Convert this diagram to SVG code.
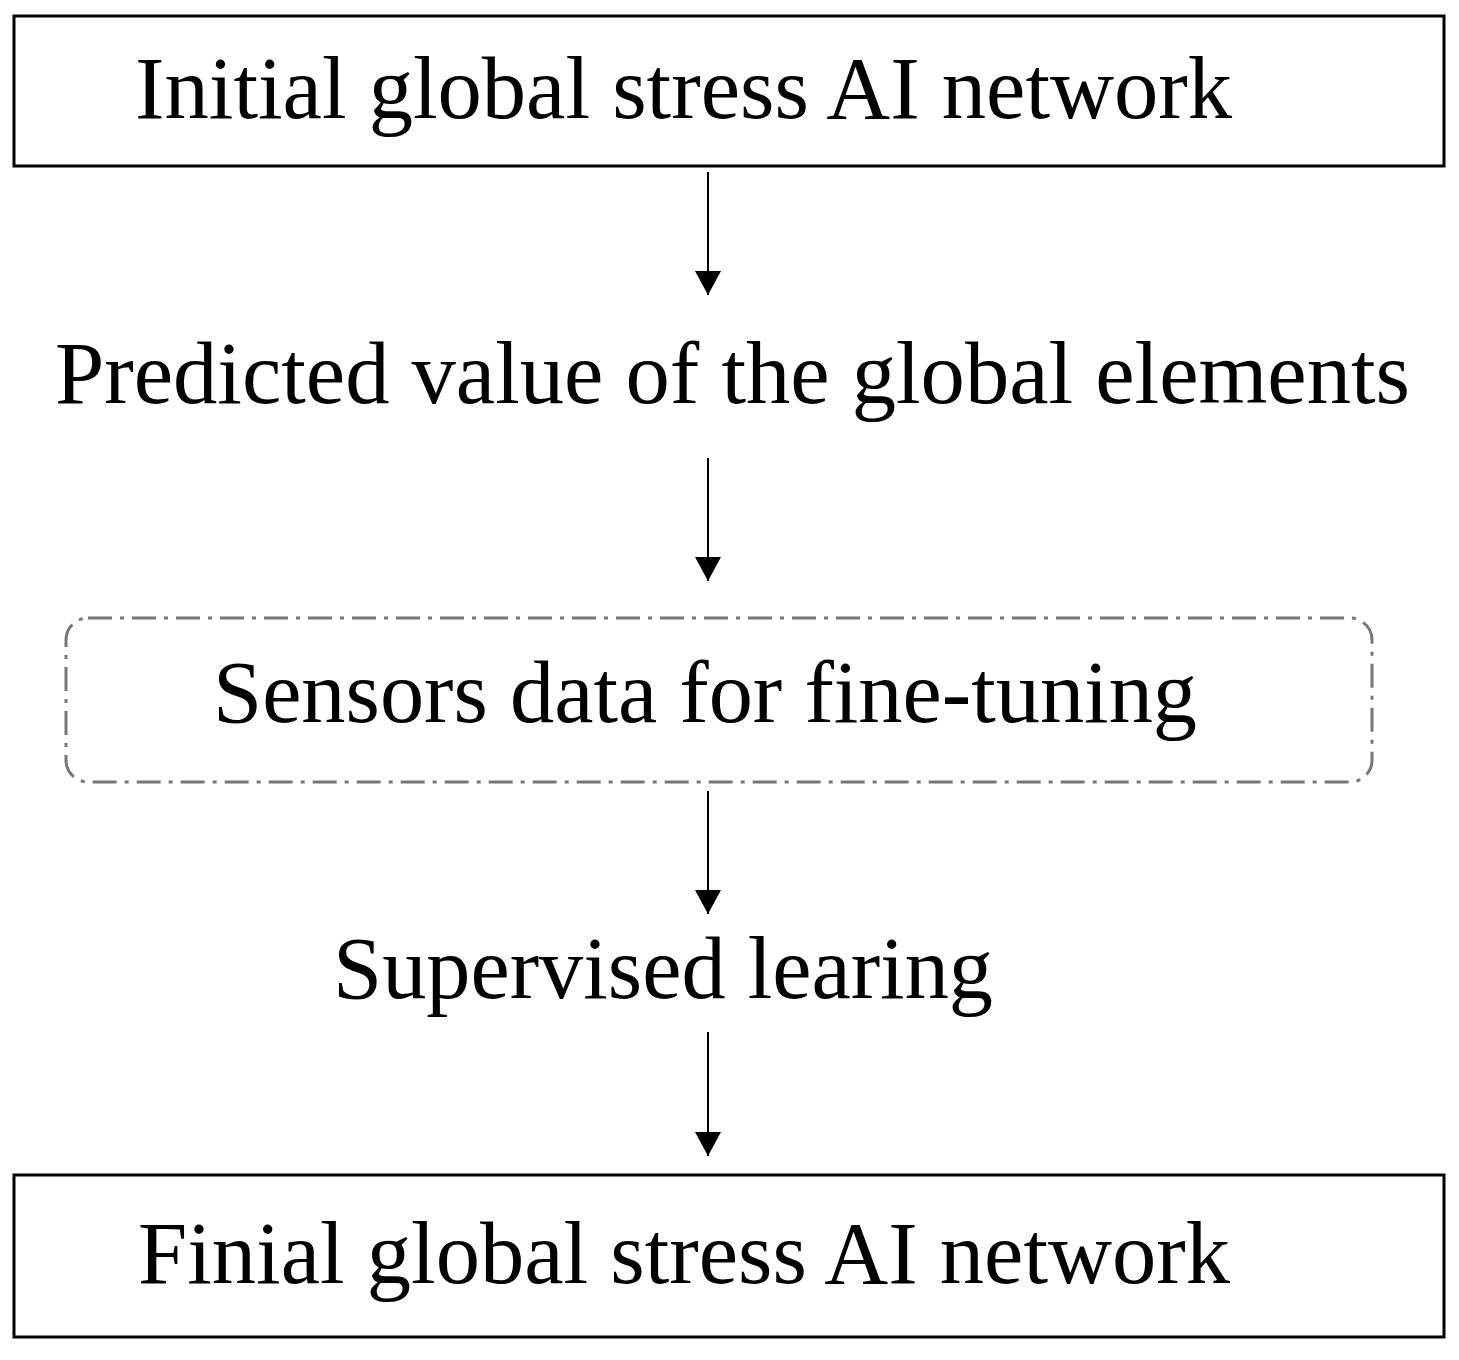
<svg xmlns="http://www.w3.org/2000/svg" width="1459" height="1360" viewBox="0 0 1459 1360">
<defs>
<style>
text{font-family:"Liberation Serif","Times New Roman",serif;font-size:88px;fill:#000}
.box{fill:#fff;stroke:#000;stroke-width:3}
.conn line{stroke:#000;stroke-width:2}
</style>
<marker id="ah" viewBox="0 0 10 10" refX="10" refY="5" markerWidth="12" markerHeight="12" markerUnits="userSpaceOnUse" orient="auto"><path d="M0,0 L10,5 L0,10 z" fill="#000"/></marker>
<marker id="ah2" viewBox="0 0 24 26" refX="24" refY="13" markerWidth="24" markerHeight="26" markerUnits="userSpaceOnUse" orient="auto"><path d="M0,0 L24,13 L0,26 z" fill="#000"/></marker>
</defs>
<rect width="1459" height="1360" fill="#fff"/>
<g id="n1"><rect class="box" x="14" y="16" width="1430" height="150"/><text x="135" y="118" textLength="1097" lengthAdjust="spacingAndGlyphs">Initial global stress AI network</text></g>
<g id="n2"><text x="55" y="403" textLength="1355" lengthAdjust="spacingAndGlyphs">Predicted value of the global elements</text></g>
<g id="n3"><rect x="66" y="618" width="1306" height="164" rx="22" fill="none" stroke="#777" stroke-width="3" stroke-dasharray="24,8,4,8"/><text x="213" y="722" textLength="984" lengthAdjust="spacingAndGlyphs">Sensors data for fine-tuning</text></g>
<g id="n4"><text x="333" y="998" textLength="660" lengthAdjust="spacingAndGlyphs">Supervised learing</text></g>
<g id="n5"><rect class="box" x="14" y="1175" width="1430" height="162"/><text x="138" y="1283" textLength="1092" lengthAdjust="spacingAndGlyphs">Finial global stress AI network</text></g>
<g id="connectors" class="conn">
<line x1="708" y1="172" x2="708" y2="295" marker-end="url(#ah2)"/>
<line x1="708" y1="458" x2="708" y2="581" marker-end="url(#ah2)"/>
<line x1="708" y1="791" x2="708" y2="914" marker-end="url(#ah2)"/>
<line x1="708" y1="1032" x2="708" y2="1156" marker-end="url(#ah2)"/>
</g>
</svg>
